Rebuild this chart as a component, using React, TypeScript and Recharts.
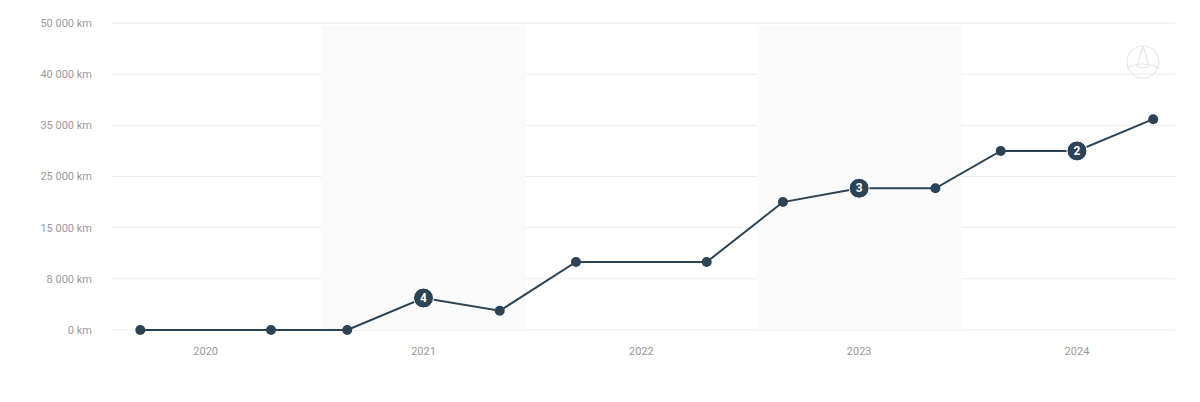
import React from 'react'
import { LineChart, Line, XAxis, YAxis, CartesianGrid, ReferenceArea } from 'recharts'

// time of each reading, as a decimal year
const readingTimes = [2020.2, 2020.8, 2021.15, 2021.5, 2021.85, 2022.2, 2022.8, 2023.15, 2023.5, 2023.85, 2024.15, 2024.5, 2024.85]
// odometer readings in km
const mileage = [0, 0, 0, 5000, 3000, 10300, 10300, 20000, 22700, 22700, 30000, 30000, 35600]
// numbered badges on some readings (empty = plain dot)
const badges = ['', '', '', '4', '', '', '', '', '3', '', '', '2', '']

const yTicksKm = [0, 8000, 15000, 25000, 35000, 40000, 50000]
const years = [2020, 2021, 2022, 2023, 2024]
const shadedYears = [2021, 2023]

// y axis is spaced evenly by tick, so km are placed between neighbouring ticks
const kmToSlot = (km: number) => {
  for (let i = 0; i < yTicksKm.length - 1; i++) {
    const a = yTicksKm[i]
    const b = yTicksKm[i + 1]
    if (km <= b) return i + (km - a) / (b - a)
  }
  return yTicksKm.length - 1
}

const fmtKm = (km: number) => km.toString().replace(/\B(?=(\d{3})+(?!\d))/g, ' ') + ' km'

const data = readingTimes.map((t, i) => ({
  t,
  slot: kmToSlot(mileage[i]),
  km: mileage[i],
  badge: badges[i],
}))

const DARK = '#2b4354'

const Dot = (props: any) => {
  const { cx, cy, payload, index } = props
  if (payload.badge) {
    return (
      <g key={index}>
        <circle cx={cx} cy={cy} r={10} fill={DARK} stroke="#fff" strokeWidth={1} />
        <text x={cx} y={cy + 4} textAnchor="middle" fill="#fff" fontSize={12} fontWeight={700} fontFamily="Roboto, sans-serif">
          {payload.badge}
        </text>
      </g>
    )
  }
  return <circle key={index} cx={cx} cy={cy} r={5} fill={DARK} />
}

const Logo = () => (
  <svg width={40} height={40} viewBox="0 0 40 40" style={{ position: 'absolute', left: 1123, top: 42 }}>
    <circle cx={20} cy={20} r={16} fill="none" stroke="#e6e6e6" strokeWidth={1.2} />
    <path d="M20 4 L14 24 Q20 28 26 24 Z" fill="none" stroke="#e6e6e6" strokeWidth={1.2} />
    <path d="M4 26 Q20 18 36 26" fill="none" stroke="#e6e6e6" strokeWidth={1.2} />
  </svg>
)

export default function App() {
  return (
    <div style={{ position: 'absolute', left: 0, top: 0, width: 1200, height: 402, background: '#fff' }}>
      <LineChart width={1200} height={402} data={data} margin={{ top: 23, right: 25, bottom: 42, left: 0 }}>
        {shadedYears.map((y) => (
          <ReferenceArea key={y} x1={y + 0.03} x2={y + 0.97} y1={0} y2={yTicksKm.length - 1.05} fill="#fafafa" fillOpacity={1} stroke="none" ifOverflow="visible" />
        ))}
        <CartesianGrid vertical={false} stroke="#ebebeb" />
        <XAxis
          dataKey="t"
          type="number"
          domain={[2020.07, 2024.95]}
          ticks={years.map((y) => y + 0.5)}
          tickFormatter={(v: number) => String(Math.floor(v))}
          axisLine={false}
          tickLine={false}
          tickSize={0}
          tickMargin={17}
          height={30}
          tick={{ fill: '#9a9a9a', fontSize: 11, fontFamily: 'Roboto, sans-serif' }}
        />
        <YAxis
          type="number"
          domain={[0, yTicksKm.length - 1]}
          ticks={yTicksKm.map((_, i) => i)}
          tickFormatter={(v: number) => fmtKm(yTicksKm[v])}
          axisLine={false}
          tickLine={false}
          tickSize={0}
          tickMargin={20}
          width={112}
          tick={{ fill: '#9a9a9a', fontSize: 11, fontFamily: 'Roboto, sans-serif' }}
        />
        <Line
          dataKey="slot"
          type="linear"
          stroke={DARK}
          strokeWidth={2}
          dot={<Dot />}
          activeDot={false}
          isAnimationActive={false}
        />
      </LineChart>
      <Logo />
    </div>
  )
}
